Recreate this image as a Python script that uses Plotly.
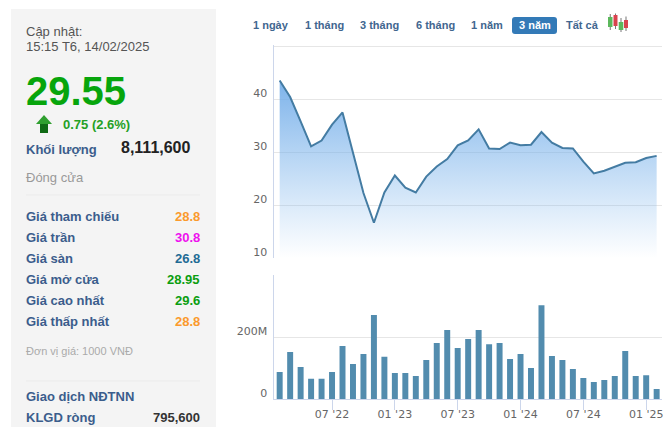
"""Stock page snapshot: price area + monthly volume bars, with the quote panel on the left."""

import plotly.graph_objects as go
from plotly.subplots import make_subplots

W, H = 669, 427

months = [
    "2022-02", "2022-03", "2022-04", "2022-05", "2022-06", "2022-07", "2022-08", "2022-09",
    "2022-10", "2022-11", "2022-12", "2023-01", "2023-02", "2023-03", "2023-04", "2023-05",
    "2023-06", "2023-07", "2023-08", "2023-09", "2023-10", "2023-11", "2023-12", "2024-01",
    "2024-02", "2024-03", "2024-04", "2024-05", "2024-06", "2024-07", "2024-08", "2024-09",
    "2024-10", "2024-11", "2024-12", "2025-01", "2025-02",
]
price = [
    43.5, 40.4, 35.8, 31.1, 32.2, 35.2, 37.5, 29.8, 22.3, 16.7, 22.4, 25.6, 23.3,
    22.4, 25.4, 27.3, 28.7, 31.3, 32.2, 34.3, 30.7, 30.6, 31.8, 31.3, 31.4, 33.8,
    31.8, 30.8, 30.7, 28.2, 26.0, 26.5, 27.2, 28.0, 28.1, 28.9, 29.3,
]
volume_m = [
    88, 153, 104, 66, 66, 88, 172, 114, 146, 272, 137, 85, 85, 75, 127, 182, 224,
    166, 195, 224, 178, 182, 130, 146, 101, 304, 140, 127, 98, 69, 56, 62, 75,
    156, 75, 78, 33,
]

x_tick_months = ["2022-07", "2023-01", "2023-07", "2024-01", "2024-07", "2025-01"]
x_tick_labels = ["07 '22", "01 '23", "07 '23", "01 '24", "07 '24", "01 '25"]
price_ticks = [10, 20, 30, 40, 50]
price_tick_labels = ["10", "20", "30", "40", ""]
volume_ticks = [0, 200, 400]
volume_tick_labels = ["0", "200M", ""]

range_buttons = ["1 ngày", "1 tháng", "3 tháng", "6 tháng", "1 năm", "3 năm", "Tất cả"]
quote_labels = ["Giá tham chiếu", "Giá trần", "Giá sàn", "Giá mở cửa", "Giá cao nhất", "Giá thấp nhất"]
quote_values = ["28.8", "30.8", "26.8", "28.95", "29.6", "28.8"]
quote_colors = ["#fb9a2c", "#ee11ee", "#1f6b94", "#0b9e10", "#0b9e10", "#fb9a2c"]

BLUE_TEXT = "#3b5d8c"
GRID = "#e6e6e6"
AXIS = "#ccd6eb"
TICK_FONT = dict(family="DejaVu Sans", size=11, color="#666666")


def px(x):
    return x / W


def py(y):
    return 1 - y / H


fig = make_subplots(rows=2, cols=1)

fig.add_trace(
    go.Scatter(
        x=months,
        y=price,
        mode="lines",
        line=dict(color="#447ca3", width=2),
        fill="tozeroy",
        fillgradient=dict(
            type="vertical",
            start=10,
            stop=43.5,
            colorscale=[[0, "rgba(124,181,236,0)"], [1, "rgba(110,170,232,0.9)"]],
        ),
        hoverinfo="skip",
    ),
    row=1,
    col=1,
)
fig.add_trace(
    go.Bar(x=months, y=volume_m, marker=dict(color="#528cae", line_width=0), width=0.57),
    row=2,
    col=1,
)

x_range = [-0.59, 36.51]
fig.update_layout(
    width=W,
    height=H,
    margin=dict(l=0, r=0, t=0, b=0, autoexpand=False),
    paper_bgcolor="white",
    plot_bgcolor="rgba(0,0,0,0)",
    showlegend=False,
    xaxis=dict(
        domain=[px(273.5), px(662)],
        type="category",
        categoryorder="array",
        categoryarray=months,
        range=x_range,
        automargin=False,
        showticklabels=False,
        ticks="",
        showgrid=False,
        showline=False,
        zeroline=False,
    ),
    yaxis=dict(
        domain=[py(258.3), py(45)],
        range=[10, 50.2],
        automargin=False,
        tickvals=price_ticks,
        ticktext=price_tick_labels,
        tickfont=TICK_FONT,
        ticklabelshift=-6,
        ticklabelstandoff=3,
        gridcolor=GRID,
        showline=True,
        linecolor=AXIS,
        zeroline=False,
    ),
    xaxis2=dict(
        domain=[px(273.5), px(662)],
        type="category",
        categoryorder="array",
        categoryarray=months,
        range=x_range,
        automargin=False,
        tickvals=x_tick_months,
        ticktext=x_tick_labels,
        tickfont=TICK_FONT,
        ticks="outside",
        ticklen=10,
        tickcolor=AXIS,
        ticklabelstandoff=-6,
        showgrid=False,
        showline=True,
        linecolor=AXIS,
        zeroline=False,
    ),
    yaxis2=dict(
        domain=[py(399.3), py(274.5)],
        range=[0, 403],
        automargin=False,
        tickvals=volume_ticks,
        ticktext=volume_tick_labels,
        tickfont=TICK_FONT,
        ticklabelshift=-6,
        ticklabelstandoff=3,
        gridcolor=GRID,
        showline=True,
        linecolor=AXIS,
        zeroline=False,
    ),
)


def rect(x0, y0, x1, y1, color):
    fig.add_shape(
        type="rect", xref="paper", yref="paper", x0=px(x0), x1=px(x1), y0=py(y0), y1=py(y1),
        fillcolor=color, line_width=0, layer="below",
    )


def hline(x0, x1, y, color):
    fig.add_shape(
        type="line", xref="paper", yref="paper", x0=px(x0), x1=px(x1), y0=py(y), y1=py(y),
        line=dict(color=color, width=1),
    )


def label(x, y, text, size=13, color=BLUE_TEXT, bold=False, anchor="left", family="Liberation Sans"):
    fig.add_annotation(
        xref="paper", yref="paper", x=px(x), y=py(y), text=f"<b>{text}</b>" if bold else text,
        showarrow=False, xanchor=anchor, yanchor="middle", borderpad=0, borderwidth=0,
        font=dict(family=family, size=size, color=color),
    )


def poly(points, color):
    path = "M " + " L ".join(f"{px(x):.5f},{py(y):.5f}" for x, y in points) + " Z"
    fig.add_shape(type="path", xref="paper", yref="paper", path=path, fillcolor=color, line_width=0)


# left panel
rect(11, 9, 216, 427, "#f4f4f4")
label(26, 32, "Cập nhật:", 13, "#555555")
label(26, 46, "15:15 T6, 14/02/2025", 13, "#555555")
label(26, 91, "29.55", 40, "#07a50c", bold=True)
poly([(44, 115), (52, 124), (36, 124)], "#2f9f2f")
poly([(40, 124), (48, 124), (48, 133), (40, 133)], "#0f6a14")
label(63, 124, "0.75 (2.6%)", 13, "#25a025", bold=True)
label(26, 150, "Khối lượng", 13, BLUE_TEXT, bold=True)
label(191, 148, "8,111,600", 16, "#222222", bold=True, anchor="right")
label(26, 177, "Đóng cửa", 13, "#999999")
hline(26, 200, 195, "#ebebeb")
for i, (name, value, color) in enumerate(zip(quote_labels, quote_values, quote_colors)):
    row_y = 216.7 + i * 21
    label(26, row_y, name, 13, BLUE_TEXT, bold=True)
    label(200, row_y, value, 13, color, bold=True, anchor="right")
label(26, 351, "Đơn vị giá: 1000 VNĐ", 11, "#aaaaaa")
hline(26, 200, 381, "#ebebeb")
label(26, 396, "Giao dịch NĐTNN", 13, BLUE_TEXT, bold=True)
label(26, 417, "KLGD ròng", 13, BLUE_TEXT, bold=True)
label(200, 417, "795,600", 13, "#333333", bold=True, anchor="right")

# range selector
button_centers = [270.8, 324, 379, 435, 486.7, 534.5, 582.7]
x0, x1, y0, y1 = 512, 557, 17, 34
r = 3
fig.add_shape(
    type="path", xref="paper", yref="paper", fillcolor="#337ab7", line_width=0,
    path=(
        f"M {px(x0 + r)},{py(y0)} L {px(x1 - r)},{py(y0)} Q {px(x1)},{py(y0)} {px(x1)},{py(y0 + r)} "
        f"L {px(x1)},{py(y1 - r)} Q {px(x1)},{py(y1)} {px(x1 - r)},{py(y1)} "
        f"L {px(x0 + r)},{py(y1)} Q {px(x0)},{py(y1)} {px(x0)},{py(y1 - r)} "
        f"L {px(x0)},{py(y0 + r)} Q {px(x0)},{py(y0)} {px(x0 + r)},{py(y0)} Z"
    ),
)
for name, center in zip(range_buttons, button_centers):
    color = "white" if name == "3 năm" else "#41668f"
    label(center, 25.5, name, 11, color, bold=True, anchor="center")

# candlestick icon next to the range selector
candles = [
    (608, 612.5, 17, 27, 14, 30, "#5cb85c"),
    (613.5, 617.5, 15, 26, 13.5, 29, "#d9434e"),
    (618.7, 623.3, 22, 30, 18, 32, "#5cb85c"),
    (624, 628, 20, 28, 16.5, 31, "#d9434e"),
]
for left, right, top, bottom, wick_top, wick_bottom, color in candles:
    mid = (left + right) / 2
    fig.add_shape(
        type="line", xref="paper", yref="paper", x0=px(mid), x1=px(mid), y0=py(wick_top), y1=py(wick_bottom),
        line=dict(color="#777777", width=1),
    )
    rect(left, top, right, bottom, color)
    fig.layout.shapes[-1].layer = "above"

fig.write_html(
    "out.html",
    config={"displayModeBar": False},
    post_script="document.body.style.margin='0';",
)
